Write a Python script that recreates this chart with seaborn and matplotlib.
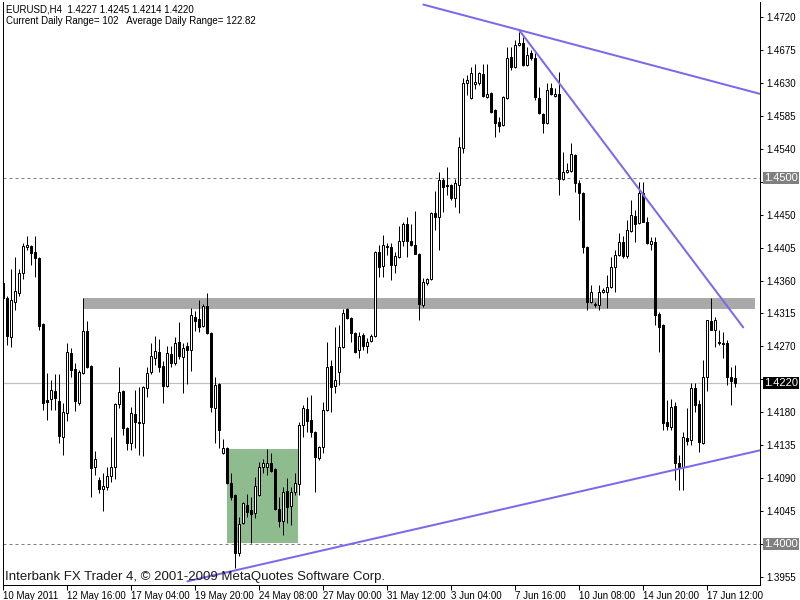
import numpy as np
import pandas as pd
import matplotlib
matplotlib.use("Agg")
import matplotlib.pyplot as plt
from matplotlib.patches import Rectangle
import seaborn as sns

# ---------------- data (EURUSD H4 candles) ----------------
opens = [1.4357,1.4336,1.4283,1.4331,1.4343,1.4370,1.4406,1.4407,1.4399,1.4391,
         1.4301,1.4197,1.4198,1.4209,1.4195,1.4146,1.4179,1.4261,1.4239,1.4193,
         1.4234,1.4291,1.4243,1.4105,1.4087,1.4075,1.4078,1.4093,1.4105,1.4191,
         1.4209,1.4159,1.4138,1.4178,1.4167,1.4165,1.4213,1.4235,1.4254,1.4262,
         1.4243,1.4216,1.4260,1.4247,1.4276,1.4256,1.4271,1.4265,1.4310,1.4307,
         1.4298,1.4325,1.4288,1.4186,1.4219,1.4124,1.4131,1.4083,1.4067,1.3988,
         1.4029,1.4053,1.4047,1.4042,1.4067,1.4105,1.4105,1.4111,1.4103,1.4048,
         1.4031,1.4072,1.4052,1.4071,1.4082,1.4163,1.4184,1.4169,1.4153,1.4118,
         1.4133,1.4183,1.4243,1.4216,1.4235,1.4269,1.4321,1.4309,1.4288,1.4265,
         1.4286,1.4271,1.4277,1.4284,1.4399,1.4380,1.4406,1.4406,1.4381,1.4392,
         1.4414,1.4437,1.4414,1.4409,1.4396,1.4327,1.4357,1.4362,1.4452,1.4447,
         1.4497,1.4490,1.4490,1.4473,1.4490,1.4541,1.4630,1.4609,1.4628,1.4630,
         1.4642,1.4611,1.4616,1.4593,1.4577,1.4572,1.4609,1.4665,1.4652,1.4682,
         1.4684,1.4654,1.4671,1.4664,1.4609,1.4587,1.4575,1.4623,1.4612,1.4615,
         1.4499,1.4508,1.4510,1.4531,1.4493,1.4480,1.4406,1.4331,1.4327,1.4327,
         1.4344,1.4344,1.4351,1.4378,1.4395,1.4413,1.4393,1.4428,1.4448,1.4439,
         1.4480,1.4440,1.4410,1.4413,1.4314,1.4299,1.4167,1.4160,1.4189,1.4111,
         1.4105,1.4145,1.4142,1.4213,1.4191,1.4138,1.4228,1.4305,1.4292,1.4276,
         1.4275,1.4275,1.4228,1.4227]
highs = [1.4372,1.4339,1.4376,1.4392,1.4376,1.4411,1.4421,1.4409,1.4421,1.4392,
         1.4302,1.4234,1.4224,1.4232,1.4232,1.4193,1.4275,1.4268,1.4247,1.4238,
         1.4336,1.4305,1.4245,1.4127,1.4092,1.4097,1.4105,1.4146,1.4193,1.4242,
         1.4210,1.4160,1.4187,1.4210,1.4215,1.4216,1.4242,1.4275,1.4284,1.4280,
         1.4250,1.4271,1.4271,1.4283,1.4303,1.4275,1.4276,1.4322,1.4318,1.4333,
         1.4328,1.4343,1.4290,1.4228,1.4220,1.4144,1.4133,1.4097,1.4068,1.4037,
         1.4057,1.4068,1.4064,1.4092,1.4112,1.4116,1.4130,1.4124,1.4104,1.4064,
         1.4078,1.4090,1.4078,1.4097,1.4167,1.4190,1.4201,1.4204,1.4154,1.4134,
         1.4194,1.4276,1.4251,1.4297,1.4299,1.4321,1.4322,1.4310,1.4290,1.4290,
         1.4288,1.4281,1.4287,1.4400,1.4409,1.4422,1.4411,1.4411,1.4399,1.4434,
         1.4440,1.4447,1.4437,1.4455,1.4398,1.4363,1.4363,1.4454,1.4482,1.4508,
         1.4500,1.4515,1.4492,1.4499,1.4556,1.4637,1.4641,1.4652,1.4656,1.4645,
         1.4656,1.4656,1.4618,1.4594,1.4583,1.4612,1.4679,1.4679,1.4689,1.4700,
         1.4693,1.4679,1.4675,1.4671,1.4624,1.4589,1.4630,1.4630,1.4623,1.4645,
         1.4536,1.4521,1.4548,1.4533,1.4497,1.4481,1.4407,1.4354,1.4331,1.4354,
         1.4350,1.4368,1.4392,1.4402,1.4425,1.4421,1.4443,1.4470,1.4456,1.4495,
         1.4495,1.4447,1.4419,1.4419,1.4317,1.4301,1.4197,1.4198,1.4194,1.4122,
         1.4153,1.4186,1.4220,1.4220,1.4197,1.4251,1.4306,1.4336,1.4310,1.4292,
         1.4290,1.4279,1.4242,1.4245]
lows =  [1.4324,1.4272,1.4269,1.4320,1.4339,1.4362,1.4402,1.4381,1.4365,1.4292,
         1.4183,1.4169,1.4183,1.4183,1.4138,1.4122,1.4168,1.4228,1.4182,1.4190,
         1.4232,1.4240,1.4064,1.4094,1.4070,1.4045,1.4074,1.4085,1.4089,1.4186,
         1.4149,1.4128,1.4128,1.4131,1.4122,1.4120,1.4201,1.4232,1.4245,1.4235,
         1.4193,1.4215,1.4242,1.4245,1.4253,1.4206,1.4219,1.4236,1.4291,1.4290,
         1.4297,1.4287,1.4180,1.4138,1.4131,1.4123,1.4082,1.4060,1.3967,1.3984,
         1.4027,1.4037,1.4001,1.4036,1.4066,1.4097,1.4094,1.4098,1.4047,1.4023,
         1.4012,1.4029,1.4026,1.4067,1.4067,1.4146,1.4153,1.4146,1.4071,1.4115,
         1.4124,1.4182,1.4180,1.4206,1.4217,1.4268,1.4307,1.4276,1.4261,1.4254,
         1.4265,1.4261,1.4276,1.4283,1.4365,1.4365,1.4395,1.4361,1.4370,1.4391,
         1.4407,1.4392,1.4407,1.4396,1.4306,1.4324,1.4354,1.4361,1.4429,1.4402,
         1.4454,1.4477,1.4470,1.4460,1.4452,1.4534,1.4613,1.4608,1.4622,1.4627,
         1.4611,1.4609,1.4589,1.4556,1.4563,1.4571,1.4608,1.4648,1.4650,1.4680,
         1.4653,1.4653,1.4661,1.4607,1.4587,1.4562,1.4574,1.4613,1.4611,1.4477,
         1.4497,1.4507,1.4508,1.4481,1.4443,1.4398,1.4320,1.4329,1.4324,1.4320,
         1.4343,1.4322,1.4350,1.4344,1.4393,1.4391,1.4391,1.4426,1.4413,1.4437,
         1.4440,1.4410,1.4402,1.4299,1.4262,1.4156,1.4156,1.4156,1.4087,1.4074,
         1.4074,1.4135,1.4135,1.4180,1.4126,1.4137,1.4209,1.4292,1.4269,1.4272,
         1.4254,1.4217,1.4190,1.4214]
closes = [1.4336,1.4284,1.4333,1.4346,1.4370,1.4407,1.4409,1.4398,1.4391,1.4298,
          1.4193,1.4194,1.4210,1.4200,1.4148,1.4180,1.4262,1.4238,1.4195,1.4235,
          1.4291,1.4242,1.4104,1.4116,1.4075,1.4079,1.4093,1.4105,1.4191,1.4208,
          1.4159,1.4138,1.4179,1.4167,1.4165,1.4215,1.4234,1.4257,1.4264,1.4242,
          1.4216,1.4261,1.4247,1.4275,1.4257,1.4268,1.4265,1.4313,1.4305,1.4297,
          1.4325,1.4288,1.4187,1.4217,1.4156,1.4131,1.4083,1.4064,1.3988,1.4027,
          1.4056,1.4044,1.4041,1.4079,1.4105,1.4111,1.4111,1.4100,1.4048,1.4031,
          1.4071,1.4051,1.4071,1.4083,1.4163,1.4186,1.4168,1.4153,1.4119,1.4133,
          1.4183,1.4242,1.4215,1.4224,1.4269,1.4316,1.4309,1.4288,1.4262,1.4284,
          1.4271,1.4276,1.4284,1.4399,1.4378,1.4409,1.4407,1.4381,1.4393,1.4414,
          1.4437,1.4414,1.4409,1.4396,1.4328,1.4358,1.4362,1.4452,1.4447,1.4497,
          1.4488,1.4489,1.4473,1.4493,1.4542,1.4630,1.4634,1.4643,1.4631,1.4643,
          1.4612,1.4615,1.4590,1.4575,1.4571,1.4611,1.4664,1.4652,1.4682,1.4684,
          1.4654,1.4668,1.4664,1.4611,1.4589,1.4575,1.4620,1.4615,1.4615,1.4499,
          1.4508,1.4511,1.4533,1.4493,1.4480,1.4406,1.4331,1.4344,1.4328,1.4344,
          1.4347,1.4351,1.4378,1.4395,1.4413,1.4393,1.4429,1.4450,1.4437,1.4480,
          1.4440,1.4411,1.4414,1.4313,1.4297,1.4165,1.4161,1.4187,1.4111,1.4105,
          1.4146,1.4141,1.4213,1.4190,1.4139,1.4228,1.4306,1.4292,1.4306,1.4275,
          1.4273,1.4228,1.4223,1.4220]

tick_bars = [0, 16, 32, 48, 64, 80, 96, 112, 128, 144, 160, 176]
tick_labels = ["10 May 2011", "12 May 16:00", "17 May 04:00", "19 May 20:00",
               "24 May 08:00", "27 May 00:00", "31 May 12:00", "3 Jun 04:00",
               "7 Jun 16:00", "10 Jun 08:00", "14 Jun 20:00", "17 Jun 12:00"]
price_ticks = [1.4720, 1.4675, 1.4630, 1.4585, 1.4540, 1.4495, 1.4450, 1.4405,
               1.4360, 1.4315, 1.4270, 1.4225, 1.4180, 1.4135, 1.4090, 1.4045,
               1.4000, 1.3955]
hidden_tick_labels = [1.4495, 1.4225, 1.4000]   # covered by the price boxes

level_dashed = [1.4500, 1.4000]
current_price = 1.4220
band_bars = [20, 188]
band_prices = [1.4321, 1.4336]
box_bars = [56, 73.7]
box_prices = [1.4001, 1.4130]
trend_a = pd.DataFrame({"bar": [105, 189.2], "price": [1.4737, 1.4615]})
trend_b = pd.DataFrame({"bar": [129, 185], "price": [1.4702, 1.4296]})
trend_c = pd.DataFrame({"bar": [46, 189.2], "price": [1.3949, 1.4128]})

# ---------------- figure ----------------
sns.set_style("white")
plt.rcParams["font.family"] = ["Liberation Sans", "DejaVu Sans"]

W, H = 800, 600
fig = plt.figure(figsize=(8, 6), dpi=100)
L, R, T, B = 3, 760, 2, 585
ax = fig.add_axes([L / W, 1 - B / H, (R - L) / W, (B - T) / H])

df = pd.DataFrame({"o": opens, "h": highs, "l": lows, "c": closes})
df["bar"] = np.arange(len(df))
up = df["c"] >= df["o"]

px = 1.0 / 100 * 72  # one pixel in points
ax.vlines(df["bar"], df["l"], df["h"], color="black", linewidth=px, zorder=3)
body_lo = np.minimum(df["o"], df["c"])
body_h = np.maximum(np.abs(df["c"] - df["o"]), 0.00002)
ax.bar(df["bar"][up], body_h[up], bottom=body_lo[up], width=0.5,
       color="white", edgecolor="black", linewidth=px, zorder=4)
ax.bar(df["bar"][~up], body_h[~up], bottom=body_lo[~up], width=0.5,
       color="black", edgecolor="black", linewidth=px, zorder=4)

ax.add_patch(Rectangle((band_bars[0], band_prices[0]), band_bars[1] - band_bars[0],
                       band_prices[1] - band_prices[0], facecolor="#a9a9a9",
                       edgecolor="none", zorder=1))
ax.add_patch(Rectangle((box_bars[0], box_prices[0]), box_bars[1] - box_bars[0],
                       box_prices[1] - box_prices[0], facecolor="#8fbc8f",
                       edgecolor="none", zorder=1))
for lv in level_dashed:
    ax.axhline(lv, color="#808080", linewidth=px, linestyle=(0, (3, 3)), zorder=2)
ax.axhline(current_price, color="#c0c0c0", linewidth=px * 1.2, zorder=2)

for tl in (trend_a, trend_b, trend_c):
    sns.lineplot(data=tl, x="bar", y="price", ax=ax, color="#7b68ee",
                 linewidth=2 * px, zorder=6, legend=False)

ax.set_xlim(-0.1, 189.2)
ax.set_ylim(1.39440, 1.47405)
ax.set_xlabel("")
ax.set_ylabel("")
ax.yaxis.tick_right()
ax.set_yticks(price_ticks)
ax.set_yticklabels(["" if p in hidden_tick_labels else f"{p:.4f}" for p in price_ticks])
ax.set_xticks(tick_bars)
ax.set_xticklabels(tick_labels, ha="left")
ax.tick_params(axis="y", which="both", right=True, left=False, length=2.5,
               width=px, pad=2, labelsize=7, colors="black")
ax.tick_params(axis="x", which="both", bottom=True, length=3.5, width=px,
               pad=1, labelsize=7, colors="black")
for s in ax.spines.values():
    s.set_color("black")
    s.set_linewidth(px)
ax.spines["top"].set_visible(False)

ytr = ax.get_yaxis_transform()
for lv, bg in ((1.4500, "#808080"), (1.4000, "#808080"), (1.4220, "black")):
    ax.text(1.0 + 4 / (R - L), lv, f"{lv:.4f}", transform=ytr, ha="left",
            va="center", color="white", fontsize=8, zorder=10, clip_on=False,
            bbox=dict(boxstyle="square,pad=0.12", fc=bg, ec="none"))

fig.text(6 / W, 1 - 10 / H, "EURUSD,H4  1.4227 1.4245 1.4214 1.4220",
         fontsize=7, va="center", ha="left", color="black")
fig.text(6 / W, 1 - 21 / H, "Current Daily Range= 102   Average Daily Range= 122.82",
         fontsize=7, va="center", ha="left", color="black")
fig.text(5 / W, 1 - 577 / H,
         "Interbank FX Trader 4, \u00a9 2001-2009 MetaQuotes Software Corp.",
         fontsize=9.5, va="center", ha="left", color="#1a1a1a")

fig.savefig("out.png", dpi=100)
